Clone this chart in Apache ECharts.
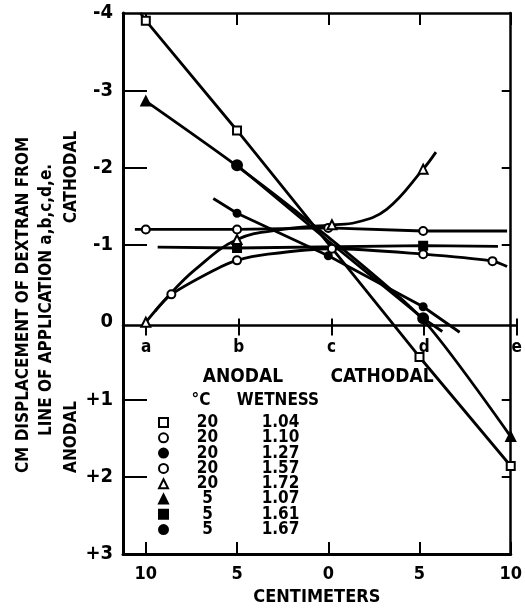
<!DOCTYPE html>
<html><head><meta charset="utf-8">
<script src="https://cdn.jsdelivr.net/npm/echarts@6/dist/echarts.min.js"></script>
<style>html,body{margin:0;padding:0;background:#fff}#c{width:525px;height:611px}</style>
</head><body><div id="c"></div>
<script>
// ---- axis ticks / labels ----
const cmTicks = [-10, -5, 0, 5, 10];
const cmLabels = ['10', '5', '0', '5', '10'];
const stationLabels = ['a', 'b', 'c', 'd', 'e'];
const yTicks = [-4, -3, -2, -1, 0, 1, 2, 3];
const yTickLabels = ['-4', '-3', '-2', '-1', '0', '+1', '+2', '+3'];
const yInnerTicks = [-3, -2, -1, 1, 2];

// ---- legend table ----
const temps = ['20', '20', '20', '20', '20', '5', '5', '5'];
const wetness = ['1.04', '1.10', '1.27', '1.57', '1.72', '1.07', '1.61', '1.67'];

// ---- series values: [cm, displacement] ; *Pts = plotted points, *Ends = line-only points ----
const s104Pts = [[-10, -3.9], [-5, -2.48], [5, 0.45], [10, 1.86]];
const s104Ends = [[-10.3, -4.0]];
const s110Pts = [[-10, -1.2], [-5, -1.2], [0, -1.22], [5.2, -1.18]];
const s110Ends = [[-10.6, -1.2], [9.8, -1.18]];
const s127Pts = [[-5, -1.41], [0, -0.86], [5.2, -0.2]];
const s127Ends = [[-6.3, -1.6], [7.2, 0.13]];
const s157Pts = [[-8.6, -0.36], [-5, -0.8], [0.2, -0.95], [5.2, -0.88], [9, -0.79]];
const s157Ends = [[-9.5, -0.14], [-6.2, -0.68], [-3.3, -0.88], [9.8, -0.72]];
const s172Pts = [[-10, 0.0], [-5, -1.07], [0.2, -1.26], [5.2, -1.98]];
const s172Ends = [[-8.8, -0.33], [-7.3, -0.68], [-2.5, -1.2], [1.5, -1.29], [3.2, -1.46], [5.9, -2.2]];
const s107Pts = [[-10, -2.86], [10, 1.48]];
const s107Ends = [[-5, -2.02], [0, -1.1], [5.2, -0.03]];
const s161Pts = [[-5, -0.96], [5.2, -0.99]];
const s161Ends = [[-9.35, -0.97], [9.3, -0.98]];
const s167Pts = [[-5, -2.03], [5.2, -0.05]];
const s167Ends = [[0, -1.05], [6.25, 0.12]];

const FONT = '"DejaVu Sans Condensed", "DejaVu Sans", sans-serif';

function build(pts, ends) {
  const all = pts.map(p => ({ value: p }))
    .concat(ends.map(p => ({ value: p, symbol: 'none' })));
  all.sort((a, b) => a.value[0] - b.value[0]);
  return all;
}

const defs = [
  { pts: s104Pts, ends: s104Ends, symbol: 'rect', size: 8, filled: false, smooth: false },
  { pts: s110Pts, ends: s110Ends, symbol: 'circle', size: 8, filled: false, smooth: false },
  { pts: s127Pts, ends: s127Ends, symbol: 'circle', size: 7, filled: true, smooth: false },
  { pts: s157Pts, ends: s157Ends, symbol: 'circle', size: 8, filled: false, smooth: 0.3 },
  { pts: s172Pts, ends: s172Ends, symbol: 'triangle', size: 9, filled: false, smooth: 0.4 },
  { pts: s107Pts, ends: s107Ends, symbol: 'triangle', size: 9, filled: true, smooth: 0.25 },
  { pts: s161Pts, ends: s161Ends, symbol: 'rect', size: 8, filled: true, smooth: false },
  { pts: s167Pts, ends: s167Ends, symbol: 'circle', size: 10, filled: true, smooth: false }
];

const series = defs.map((d, i) => ({
  name: wetness[i],
  type: 'line',
  xAxisIndex: 0, yAxisIndex: 0,
  data: build(d.pts, d.ends),
  symbol: d.symbol,
  symbolSize: d.size,
  showAllSymbol: true,
  smooth: d.smooth,
  lineStyle: { color: '#000', width: 2.8 },
  itemStyle: { color: d.filled ? '#000' : '#fff', borderColor: '#000', borderWidth: 2 },
  emphasis: { disabled: true },
  animation: false,
  z: 3
}));

const baseX = { type: 'value', min: -11.25, max: 10, splitLine: { show: false } };
const zeroFromBottom = 611 - (13 + 4 * (611 - 51 - 13) / 7);

const option = {
  backgroundColor: '#fff',
  animation: false,
  grid: [
    { left: 123, right: 8, top: 13, bottom: 51, show: false },
    { left: 123, right: 8, top: 13, bottom: zeroFromBottom, show: false }
  ],
  xAxis: [
    Object.assign({}, baseX, {
      gridIndex: 0, position: 'bottom',
      name: 'CENTIMETERS', nameLocation: 'middle', nameGap: 31,
      nameTextStyle: { color: '#000', fontSize: 18, fontWeight: 'bold', fontFamily: FONT },
      axisLine: { onZero: false, lineStyle: { color: '#000', width: 3 } },
      axisTick: { inside: true, length: 12, lineStyle: { color: '#000', width: 2 }, customValues: cmTicks },
      axisLabel: { customValues: cmTicks, margin: 11, color: '#000', fontSize: 18, fontWeight: 'bold', fontFamily: FONT,
        formatter: v => cmLabels[cmTicks.indexOf(v)] }
    }),
    Object.assign({}, baseX, {
      gridIndex: 0, position: 'top',
      axisLine: { onZero: false, lineStyle: { color: '#000', width: 2.5 } },
      axisTick: { inside: true, length: 12, lineStyle: { color: '#000', width: 2 }, customValues: cmTicks },
      axisLabel: { show: false }
    }),
    Object.assign({}, baseX, {
      gridIndex: 1, position: 'bottom',
      axisLine: { onZero: false, lineStyle: { color: '#000', width: 2.5 } },
      axisTick: { inside: false, length: 10, lineStyle: { color: '#000', width: 2 }, customValues: cmTicks },
      axisLabel: { customValues: cmTicks, margin: 14, color: '#000', fontSize: 17, fontWeight: 'bold', fontFamily: FONT,
        formatter: v => stationLabels[cmTicks.indexOf(v)] }
    }),
    Object.assign({}, baseX, {
      gridIndex: 1, position: 'bottom',
      axisLine: { onZero: false, show: false },
      axisTick: { inside: true, length: 7, lineStyle: { color: '#000', width: 2 }, customValues: cmTicks },
      axisLabel: { show: false }
    })
  ],
  yAxis: [
    {
      gridIndex: 0, type: 'value', min: -4, max: 3, interval: 1, inverse: true, position: 'left',
      splitLine: { show: false },
      axisLine: { onZero: false, lineStyle: { color: '#000', width: 3 } },
      axisTick: { inside: true, length: 24, lineStyle: { color: '#000', width: 2 }, customValues: yInnerTicks },
      axisLabel: { customValues: yTicks, margin: 10, color: '#000', fontSize: 20, fontWeight: 'bold', fontFamily: FONT,
        formatter: v => yTickLabels[yTicks.indexOf(v)] }
    },
    {
      gridIndex: 0, type: 'value', min: -4, max: 3, interval: 1, inverse: true, position: 'right',
      splitLine: { show: false },
      axisLine: { onZero: false, lineStyle: { color: '#000', width: 2.5 } },
      axisTick: { inside: true, length: 9, lineStyle: { color: '#000', width: 2 }, customValues: yInnerTicks },
      axisLabel: { show: false }
    },
    {
      gridIndex: 1, type: 'value', min: 0, max: 1, show: false
    }
  ],
  legend: {
    orient: 'vertical', left: 158, top: 414,
    itemWidth: 9, itemHeight: 9, itemGap: -1.7, padding: 0,
    selectedMode: false,
    data: defs.map((d, i) => ({ name: wetness[i], icon: d.symbol })),
    formatter: name => '{t|' + temps[wetness.indexOf(name)] + '}{w|' + name + '}',
    textStyle: {
      color: '#000', fontSize: 17, fontWeight: 'bold', fontFamily: FONT, lineHeight: 14,
      rich: {
        t: { width: 69, align: 'center', fontSize: 17, fontWeight: 'bold', fontFamily: FONT, lineHeight: 14, color: '#000' },
        w: { width: 77, align: 'center', fontSize: 17, fontWeight: 'bold', fontFamily: FONT, lineHeight: 14, color: '#000' }
      }
    }
  },
  graphic: [
    { type: 'text', x: 24, y: 305, rotation: Math.PI / 2,
      style: { text: 'CM DISPLACEMENT OF DEXTRAN FROM', align: 'center', verticalAlign: 'middle', fill: '#000', font: 'bold 17px ' + FONT } },
    { type: 'text', x: 47, y: 300, rotation: Math.PI / 2,
      style: { text: 'LINE OF APPLICATION a,b,c,d,e.', align: 'center', verticalAlign: 'middle', fill: '#000', font: 'bold 17px ' + FONT } },
    { type: 'text', x: 72, y: 177, rotation: Math.PI / 2,
      style: { text: 'CATHODAL', align: 'center', verticalAlign: 'middle', fill: '#000', font: 'bold 17px ' + FONT } },
    { type: 'text', x: 72, y: 437, rotation: Math.PI / 2,
      style: { text: 'ANODAL', align: 'center', verticalAlign: 'middle', fill: '#000', font: 'bold 17px ' + FONT } },
    { type: 'text', x: 243, y: 377,
      style: { text: 'ANODAL', align: 'center', verticalAlign: 'middle', fill: '#000', font: 'bold 19px ' + FONT } },
    { type: 'text', x: 382, y: 377,
      style: { text: 'CATHODAL', align: 'center', verticalAlign: 'middle', fill: '#000', font: 'bold 19px ' + FONT } },
    { type: 'text', x: 201, y: 401,
      style: { text: '°C', align: 'center', verticalAlign: 'middle', fill: '#000', font: 'bold 17px ' + FONT } },
    { type: 'text', x: 278, y: 401,
      style: { text: 'WETNESS', align: 'center', verticalAlign: 'middle', fill: '#000', font: 'bold 17px ' + FONT } }
  ],
  series: series
};

const chart = echarts.init(document.getElementById('c'), null, { renderer: 'canvas' });
chart.setOption(option);
</script>
</body></html>
